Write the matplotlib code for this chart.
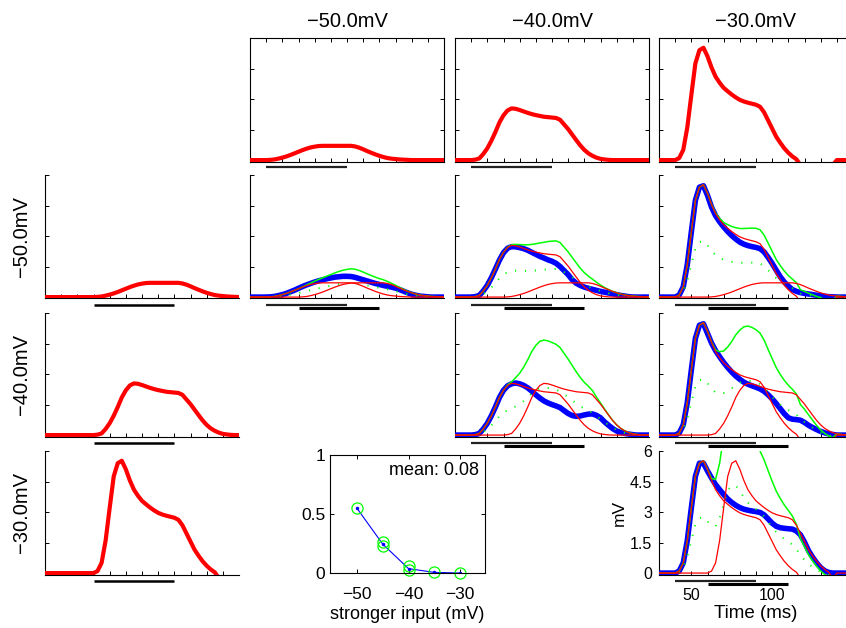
import numpy as np
import matplotlib
matplotlib.use("Agg")
import matplotlib.pyplot as plt
from matplotlib.transforms import blended_transform_factory

plt.rcParams['font.family'] = ['Liberation Sans', 'DejaVu Sans']

# ---------------- data ----------------
t = np.arange(30, 150.1, 2.5)          # sample times (ms), 49 samples
delay = 20                              # second input starts 20 ms after the first
input1_on = [40, 90]
input2_on = [60, 110]
levels = ["\u221250.0mV", "\u221240.0mV", "\u221230.0mV"]

# single input responses (mV), one per input strength
resp_50 = [0, 0, 0, 0, 0, 0.01, 0.03, 0.07, 0.12, 0.18,
           0.25, 0.33, 0.41, 0.49, 0.56, 0.62, 0.66, 0.69, 0.7, 0.7,
           0.7, 0.7, 0.7, 0.7, 0.7, 0.7, 0.67, 0.61, 0.53, 0.44,
           0.36, 0.28, 0.21, 0.15, 0.1, 0.07, 0.05, 0.03, 0.02, 0.01,
           0, 0, 0, 0, 0, 0, 0, 0, 0]
resp_40 = [0, 0, 0, 0, 0, 0.02, 0.08, 0.3, 0.58, 0.95,
           1.38, 1.85, 2.2, 2.44, 2.54, 2.52, 2.46, 2.39, 2.32, 2.26,
           2.21, 2.17, 2.13, 2.11, 2.09, 2.07, 1.98, 1.75, 1.52, 1.25,
           0.98, 0.72, 0.5, 0.33, 0.21, 0.12, 0.06, 0.03, 0.01, 0,
           0, 0, 0, 0, 0, 0, 0, 0, 0]
resp_30 = [0, 0, 0, 0, 0, 0.1, 0.5, 1.6, 3.2, 4.75,
           5.4, 5.52, 5.1, 4.55, 4.1, 3.8, 3.55, 3.38, 3.22, 3.08,
           2.96, 2.88, 2.82, 2.77, 2.72, 2.62, 2.35, 1.95, 1.55, 1.15,
           0.85, 0.58, 0.36, 0.18, 0.04, -0.25, -0.25, -0.25, -0.25, -0.25,
           -0.25, -0.25, -0.25, -0.25, 0, 0, 0, 0, 0]

# measured responses to both inputs (second input strength _ first input strength)
comb_50_50 = [0, 0, 0, 0, 0, 0.01, 0.03, 0.07, 0.12, 0.18,
              0.26, 0.34, 0.43, 0.52, 0.6, 0.67, 0.74, 0.8, 0.85, 0.9,
              0.94, 0.98, 1.0, 1.02, 1.02, 1.01, 0.97, 0.91, 0.85, 0.79,
              0.73, 0.67, 0.62, 0.57, 0.53, 0.49, 0.44, 0.37, 0.29, 0.21,
              0.14, 0.09, 0.05, 0.03, 0.01, 0, 0, 0, 0]
comb_50_40 = [0, 0, 0, 0, 0, 0.02, 0.08, 0.3, 0.58, 0.95,
              1.38, 1.82, 2.18, 2.4, 2.48, 2.47, 2.43, 2.38, 2.3, 2.2,
              2.1, 2.0, 1.92, 1.83, 1.76, 1.66, 1.5, 1.3, 1.1, 0.85,
              0.68, 0.57, 0.49, 0.43, 0.38, 0.33, 0.28, 0.24, 0.2, 0.16,
              0.12, 0.08, 0.05, 0.02, 0, 0, 0, 0, 0]
comb_50_30 = [0, 0, 0, 0, 0, 0.1, 0.5, 1.6, 3.2, 4.75,
              5.4, 5.47, 5.0, 4.42, 4.0, 3.7, 3.45, 3.22, 3.02, 2.85,
              2.7, 2.6, 2.53, 2.48, 2.44, 2.38, 2.22, 1.95, 1.65, 1.32,
              1.0, 0.74, 0.54, 0.37, 0.28, 0.22, 0.18, 0.15, 0.12, 0.09,
              0.06, 0.04, 0.02, 0.01, 0, 0, 0, 0, 0]
comb_40_40 = [0, 0, 0, 0, 0, 0.02, 0.08, 0.3, 0.58, 0.95,
              1.38, 1.85, 2.2, 2.42, 2.52, 2.56, 2.52, 2.44, 2.32, 2.16,
              1.98, 1.82, 1.68, 1.58, 1.5, 1.43, 1.35, 1.2, 1.06, 0.96,
              0.92, 0.94, 0.99, 1.03, 1.04, 0.97, 0.85, 0.65, 0.48, 0.32,
              0.2, 0.13, 0.08, 0.05, 0.02, 0, 0, 0, 0]
comb_40_30 = [0, 0, 0, 0, 0, 0.1, 0.5, 1.6, 3.2, 4.75,
              5.4, 5.47, 5.0, 4.52, 4.15, 3.85, 3.57, 3.32, 3.1, 2.9,
              2.74, 2.6, 2.5, 2.42, 2.35, 2.27, 2.15, 1.98, 1.78, 1.55,
              1.3, 1.05, 0.85, 0.78, 0.76, 0.73, 0.62, 0.48, 0.37, 0.27,
              0.18, 0.11, 0.06, 0.03, 0, 0, 0, 0, 0]
comb_30_30 = [0, 0, 0, 0, 0, 0.1, 0.5, 1.6, 3.2, 4.75,
              5.4, 5.4, 5.02, 4.67, 4.35, 4.1, 3.86, 3.64, 3.47, 3.33,
              3.22, 3.14, 3.09, 3.05, 3.02, 2.98, 2.86, 2.66, 2.45, 2.3,
              2.23, 2.2, 2.18, 2.16, 2.07, 1.88, 1.52, 1.1, 0.78, 0.5,
              0.27, 0.11, 0.03, 0, 0, 0, 0, 0, 0]

# summary panel
scatter_x = [-50, -45, -45, -40, -40, -35, -30]
scatter_y = [0.55, 0.26, 0.225, 0.056, 0.023, 0.006, 0.0]
mean_x = [-50, -45, -40, -35, -30]
mean_y = [0.55, 0.245, 0.037, 0.005, 0.0]
mean_text = "mean: 0.08"

resp = [np.array(resp_50), np.array(resp_40), np.array(resp_30)]
comb = {(0, 0): comb_50_50, (0, 1): comb_50_40, (0, 2): comb_50_30,
        (1, 1): comb_40_40, (1, 2): comb_40_30, (2, 2): comb_30_30}

n_shift = int(round(delay / (t[1] - t[0])))
def late(r):
    # same response, arriving `delay` ms later
    return np.concatenate([np.zeros(n_shift), r[:-n_shift]])

# ---------------- layout ----------------
W, H = 846, 628
fig = plt.figure(figsize=(W / 100, H / 100), dpi=100)

col_left = [45, 250, 455, 659]
row_top = [38, 175, 313, 451]
pw, ph = 194, 123.5

RED, GREEN, BLUE = '#ff0000', '#00ff00', '#0000ff'

def make_ax(col, row, box=False):
    ax = fig.add_axes([col_left[col] / W, 1 - (row_top[row] + ph) / H, pw / W, ph / H])
    ax.set_xticks(np.arange(40, 141, 10))
    ax.set_yticks([0, 1.5, 3, 4.5, 6])
    ax.tick_params(direction='in', length=3, width=0.7, labelbottom=False,
                   labelleft=False, top=box, right=box)
    for s in ax.spines.values():
        s.set_linewidth(0.8)
    if not box:
        ax.spines['top'].set_visible(False)
        ax.spines['right'].set_visible(False)
    return ax

def trace(ax, y, **kw):
    return ax.plot(t, y, zorder=3, **kw)[0]

def bar(ax, span, yoff, lw, color):
    tr = blended_transform_factory(ax.transData, ax.transAxes)
    ax.plot(span, [yoff, yoff], color=color, lw=lw, transform=tr, clip_on=False,
            solid_capstyle='butt')

def finish(ax):
    ax.set_xlim(30, 150)
    ax.set_ylim(-0.07, 6)

# top row: first input alone
for c in range(3):
    ax = make_ax(c + 1, 0, box=True)
    trace(ax, resp[c], color=RED, lw=3)
    bar(ax, input1_on, -0.045, 1.6, '#222222')
    ax.set_title(levels[c], fontsize=14.5, pad=8)
    finish(ax)

# first column: second input alone
for r in range(3):
    ax = make_ax(0, r + 1)
    trace(ax, late(resp[r]), color=RED, lw=3)
    bar(ax, input2_on, -0.054, 1.8, 'black')
    fig.text(21 / W, 1 - (row_top[r + 1] + ph / 2) / H, levels[r], rotation=90,
             ha='center', va='center', fontsize=14.5)
    finish(ax)

# combined panels
for (r, c), y in comb.items():
    ax = make_ax(c + 1, r + 1)
    a = resp[c]
    b = late(resp[r])
    trace(ax, y, color=BLUE, lw=4)
    trace(ax, (a + b) / 2, color=GREEN, lw=1.4, linestyle=(0, (0.6, 4.5)))
    trace(ax, a + b, color=GREEN, lw=1.1)
    trace(ax, a, color=RED, lw=0.9)
    trace(ax, b, color=RED, lw=0.9)
    bar(ax, input1_on, -0.054, 1.6, '#222222')
    bar(ax, input2_on, -0.078, 2.2, 'black')
    finish(ax)
    if (r, c) == (2, 2):
        ax.tick_params(labelleft=True, labelbottom=True, labelsize=11.5, pad=5)
        ax.tick_params(axis='x', pad=10)
        ax.set_yticklabels(['0', '1.5', '3', '4.5', '6'])
        ax.set_xticklabels(['' if v not in (50, 100) else str(v) for v in range(40, 141, 10)])
        ax.set_xlabel('Time (ms)', fontsize=13.5, labelpad=1)
        ax.set_ylabel('mV', fontsize=12.5, labelpad=2)

# summary panel
axs = fig.add_axes([330 / W, 1 - 573 / H, 155 / W, 118 / H])
axs.plot(mean_x, mean_y, color=BLUE, lw=0.8, marker='.', ms=3)
axs.plot(scatter_x, scatter_y, linestyle='none', marker='o', ms=8, mfc='none',
         mec=GREEN, mew=0.9, clip_on=False)
axs.set_xlim(-55.2, -25.2)
axs.set_ylim(0, 1)
axs.set_xticks([-50, -40, -30])
axs.set_yticks([0, 0.5, 1])
axs.set_yticklabels(['0', '0.5', '1'])
axs.tick_params(direction='in', length=3, width=0.7, top=True, right=True, labelsize=12.5)
axs.tick_params(axis='x', pad=10)
for s in axs.spines.values():
    s.set_linewidth(0.8)
axs.text(0.96, 0.87, mean_text, transform=axs.transAxes, ha='right', va='center', fontsize=13)
axs.set_xlabel('stronger input (mV)', fontsize=13, labelpad=3)

fig.savefig('out.png', dpi=100)
